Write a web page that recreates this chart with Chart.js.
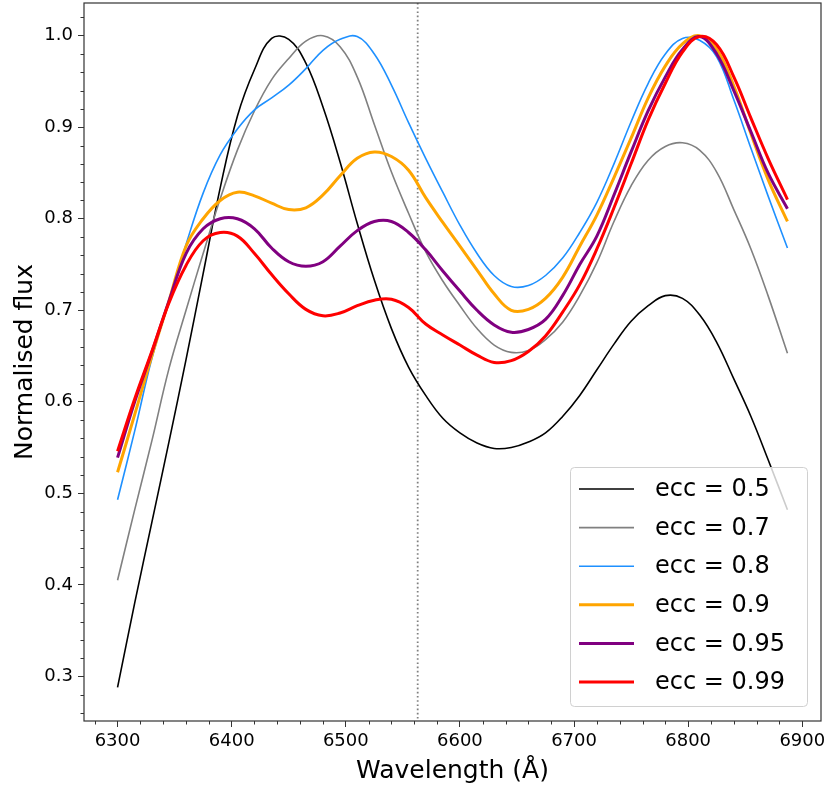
<!DOCTYPE html>
<html>
<head>
<meta charset="utf-8">
<title>Normalised flux</title>
<script src="https://cdn.jsdelivr.net/npm/chart.js@4.4.1/dist/chart.umd.min.js"></script>
<style>
  html, body { margin: 0; padding: 0; background: #fff; }
  #wrap { width: 831px; height: 791px; }
</style>
</head>
<body>
<div id="wrap"><canvas id="flux-chart" width="831" height="791"></canvas></div>
<script>
const wavelength = [6300, 6315, 6330, 6345, 6360, 6375, 6390, 6405, 6420, 6435,
                    6450, 6465, 6480, 6495, 6510, 6525, 6540, 6555, 6570, 6585,
                    6600, 6615, 6630, 6645, 6660, 6675, 6690, 6705, 6720, 6735,
                    6750, 6765, 6780, 6795, 6810, 6825, 6840, 6855, 6870, 6887];

const ecc05  = [0.288, 0.380, 0.468, 0.556, 0.646, 0.740, 0.834, 0.912, 0.963, 0.997,
                0.996, 0.970, 0.922, 0.862, 0.795, 0.733, 0.680, 0.638, 0.607, 0.582,
                0.566, 0.555, 0.549, 0.550, 0.556, 0.566, 0.584, 0.607, 0.635, 0.663,
                0.688, 0.705, 0.716, 0.713, 0.695, 0.665, 0.625, 0.584, 0.537, 0.482];
const ecc07  = [0.405, 0.482, 0.557, 0.636, 0.700, 0.762, 0.822, 0.875, 0.918, 0.952,
                0.975, 0.994, 1.000, 0.988, 0.955, 0.903, 0.851, 0.806, 0.764, 0.732,
                0.705, 0.680, 0.662, 0.654, 0.656, 0.668, 0.687, 0.716, 0.752, 0.797,
                0.836, 0.864, 0.879, 0.883, 0.875, 0.851, 0.810, 0.767, 0.716, 0.653];
const ecc08  = [0.493, 0.568, 0.647, 0.710, 0.772, 0.828, 0.870, 0.898, 0.919, 0.932,
                0.946, 0.964, 0.984, 0.996, 0.999, 0.980, 0.946, 0.905, 0.866, 0.829,
                0.793, 0.762, 0.738, 0.726, 0.727, 0.738, 0.757, 0.785, 0.818, 0.860,
                0.906, 0.948, 0.980, 0.997, 0.995, 0.977, 0.930, 0.877, 0.825, 0.768];
const ecc09  = [0.523, 0.586, 0.650, 0.710, 0.770, 0.800, 0.820, 0.829, 0.825, 0.817,
                0.810, 0.812, 0.826, 0.847, 0.866, 0.873, 0.868, 0.853, 0.823, 0.796,
                0.770, 0.744, 0.718, 0.700, 0.701, 0.713, 0.736, 0.770, 0.804, 0.845,
                0.888, 0.932, 0.967, 0.991, 1.000, 0.985, 0.945, 0.893, 0.843, 0.797];
const ecc095 = [0.539, 0.600, 0.654, 0.710, 0.762, 0.789, 0.800, 0.800, 0.789, 0.768,
                0.753, 0.748, 0.753, 0.770, 0.787, 0.797, 0.797, 0.785, 0.766, 0.743,
                0.721, 0.700, 0.684, 0.676, 0.679, 0.690, 0.716, 0.750, 0.781, 0.826,
                0.873, 0.918, 0.955, 0.985, 0.999, 0.980, 0.940, 0.895, 0.850, 0.811];
const ecc099 = [0.546, 0.603, 0.655, 0.708, 0.749, 0.776, 0.785, 0.781, 0.762, 0.739,
                0.718, 0.701, 0.694, 0.697, 0.705, 0.711, 0.712, 0.703, 0.685, 0.673,
                0.662, 0.651, 0.643, 0.645, 0.655, 0.672, 0.698, 0.728, 0.767, 0.812,
                0.860, 0.908, 0.948, 0.982, 0.999, 0.990, 0.955, 0.910, 0.866, 0.821];

const seriesLabels = ["ecc = 0.5", "ecc = 0.7", "ecc = 0.8", "ecc = 0.9", "ecc = 0.95", "ecc = 0.99"];
const seriesValues = [ecc05, ecc07, ecc08, ecc09, ecc095, ecc099];
const seriesColors = ["#000000", "#808080", "#1e90ff", "#ffa500", "#800080", "#ff0000"];
const seriesWidths = [1.6, 1.6, 1.6, 3, 3, 3];

const xTicks = [6300, 6400, 6500, 6600, 6700, 6800, 6900];
const yTicks = [0.3, 0.4, 0.5, 0.6, 0.7, 0.8, 0.9, 1.0];
const halpha = 6563;

const FONT = "'DejaVu Sans', 'Liberation Sans', sans-serif";
const AXIS_COLOR = "#333";

// minor ticks, frame and the H-alpha marker
const frame = {
  id: "frame",
  beforeDatasetsDraw(chart) {
    const { ctx, chartArea: a, scales: { x } } = chart;
    const px = x.getPixelForValue(halpha);
    ctx.save();
    ctx.strokeStyle = "#808080";
    ctx.lineWidth = 1.8;
    ctx.setLineDash([1.6, 2.6]);
    ctx.beginPath();
    ctx.moveTo(px, a.top);
    ctx.lineTo(px, a.bottom);
    ctx.stroke();
    ctx.restore();
  },
  afterDraw(chart) {
    const { ctx, chartArea: a, scales: { x, y } } = chart;
    ctx.save();
    ctx.strokeStyle = AXIS_COLOR;
    ctx.lineWidth = 1;
    ctx.beginPath();
    for (let v = 6280; v <= 6900; v += 20) {
      if (v % 100 === 0) continue;
      const px = Math.round(x.getPixelForValue(v)) + 0.5;
      ctx.moveTo(px, a.bottom);
      ctx.lineTo(px, a.bottom + 3.5);
    }
    for (let k = 13; k <= 51; k++) {
      if (k % 5 === 0) continue;
      const py = Math.round(y.getPixelForValue(k * 0.02)) + 0.5;
      ctx.moveTo(a.left, py);
      ctx.lineTo(a.left - 3.5, py);
    }
    ctx.stroke();
    ctx.lineWidth = 1.2;
    ctx.strokeRect(a.left, a.top, a.right - a.left, a.bottom - a.top);
    ctx.restore();
  }
};

// legend inside the plot, lower right
const legendBox = {
  id: "legendBox",
  afterDraw(chart) {
    const { ctx, chartArea: a } = chart;
    const w = 237, h = 239, rowH = 38.6;
    const x0 = a.right - 14 - w;
    const y0 = a.bottom - 15 - h;
    ctx.save();
    ctx.fillStyle = "rgba(255,255,255,0.8)";
    ctx.strokeStyle = "#d0d0d0";
    ctx.lineWidth = 1;
    ctx.beginPath();
    ctx.roundRect(x0 + 0.5, y0 + 0.5, w, h, 4);
    ctx.fill();
    ctx.stroke();
    ctx.font = `24px ${FONT}`;
    ctx.textBaseline = "middle";
    ctx.fillStyle = "#000";
    chart.data.datasets.forEach((ds, i) => {
      const cy = y0 + 22 + i * rowH;
      ctx.strokeStyle = ds.borderColor;
      ctx.lineWidth = ds.borderWidth;
      ctx.beginPath();
      ctx.moveTo(x0 + 9, cy);
      ctx.lineTo(x0 + 64, cy);
      ctx.stroke();
      ctx.fillText(ds.label, x0 + 85, cy + 1);
    });
    ctx.restore();
  }
};

const datasets = seriesValues.map((vals, i) => ({
  label: seriesLabels[i],
  data: wavelength.map((w, j) => ({ x: w, y: vals[j] })),
  borderColor: seriesColors[i],
  backgroundColor: seriesColors[i],
  borderWidth: seriesWidths[i],
  pointRadius: 0,
  tension: 0.4,
  order: seriesValues.length - i,
}));

new Chart(document.getElementById("flux-chart"), {
  type: "line",
  data: { datasets },
  options: {
    responsive: false,
    animation: false,
    layout: { padding: { top: 3, right: 10, left: 0, bottom: 0 } },
    plugins: { legend: { display: false }, tooltip: { enabled: false } },
    scales: {
      x: {
        type: "linear",
        min: 6270.6,
        max: 6916.4,
        afterBuildTicks: s => { s.ticks = xTicks.map(v => ({ value: v })); },
        afterFit: s => { s.height = 70; s.paddingLeft = 0; s.paddingRight = 0; },
        ticks: {
          color: "#000",
          font: { family: FONT, size: 18 },
          padding: 4,
          autoSkip: false,
          maxRotation: 0,
          callback: v => String(v),
        },
        grid: { drawOnChartArea: false, tickLength: 6, color: AXIS_COLOR, lineWidth: 1 },
        border: { display: false },
        title: {
          display: true,
          text: "Wavelength (Å)",
          color: "#000",
          font: { family: FONT, size: 25 },
          padding: { top: 0, bottom: 5 },
        },
      },
      y: {
        min: 0.2513,
        max: 1.0357,
        afterBuildTicks: s => { s.ticks = yTicks.map(v => ({ value: v })); },
        afterFit: s => { s.width = 84; s.paddingTop = 0; s.paddingBottom = 0; },
        ticks: {
          color: "#000",
          font: { family: FONT, size: 18 },
          padding: 5,
          callback: v => v.toFixed(1),
        },
        grid: { drawOnChartArea: false, tickLength: 6, color: AXIS_COLOR, lineWidth: 1 },
        border: { display: false },
        title: {
          display: true,
          text: "Normalised flux",
          color: "#000",
          font: { family: FONT, size: 25 },
          padding: { top: 10, bottom: 0 },
        },
      },
    },
  },
  plugins: [frame, legendBox],
});
</script>
</body>
</html>
